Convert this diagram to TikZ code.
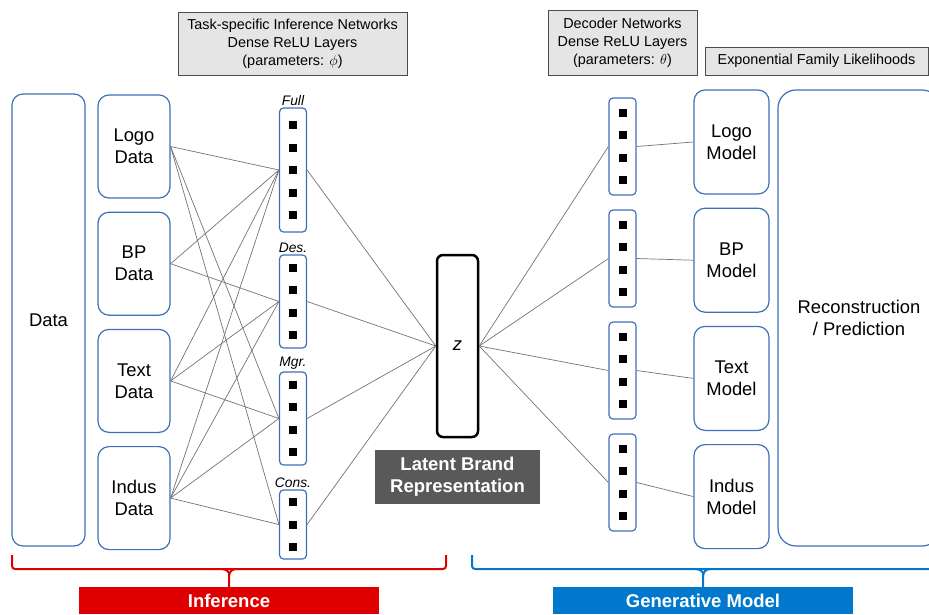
\documentclass[tikz,border=0pt]{standalone}
\usepackage{fontspec}
\setmainfont{Liberation Sans}
\usetikzlibrary{positioning,calc}

\definecolor{boxblue}{RGB}{62,112,184}
\definecolor{infred}{RGB}{222,0,0}
\definecolor{genblue}{RGB}{0,120,205}

\begin{document}
\begin{tikzpicture}[
    x=1pt, y=1pt,
    block/.style={rectangle, draw=boxblue, line width=1.2pt, rounded corners=11pt, align=center, inner sep=0pt, font=\fontsize{18.4}{22}\selectfont},
    netbox/.style={rectangle, draw=boxblue, line width=1.2pt, rounded corners=4pt, minimum width=27pt, inner sep=0pt},
    unit/.style={rectangle, fill=black, minimum size=8pt, inner sep=0pt},
    netlabel/.style={inner sep=1pt, font=\itshape\fontsize{13.8}{16}\selectfont},
    header/.style={rectangle, draw=black!70, fill=black!10, line width=1pt, align=center, inner sep=0pt, font=\fontsize{14.4}{18}\selectfont},
    tag/.style={rectangle, text=white, align=center, inner sep=0pt, font=\bfseries\fontsize{18.5}{22}\selectfont},
    wire/.style={draw=black!55, line width=0.7pt},
    brace/.style={line width=2pt, rounded corners=3pt}
]
\useasboundingbox (0,0) rectangle (929,-614);
\clip (0,0) rectangle (929,-614);

% headers above the two halves
\node[header, minimum width=229pt, minimum height=63pt] (infhead) at (292.5,-43.5) {Task-specific Inference Networks\\Dense ReLU Layers\\(parameters: $\phi$)};
\node[header, minimum width=149pt, minimum height=65pt] (dechead) at (622.5,-42.5) {Decoder Networks\\Dense ReLU Layers\\(parameters: $\theta$)};
\node[header, minimum width=223pt, minimum height=28pt] (likhead) at (816.5,-61) {Exponential Family Likelihoods};

% input side
\node[block, minimum width=73pt, minimum height=452pt] (data) at (48.5,-320) {Data};
\node[block, minimum width=72pt, minimum height=103pt] (logod) at (134,-146.5) {Logo\\Data};
\node[block, minimum width=72pt, minimum height=103pt, below=13pt of logod] (bpd) {BP\\Data};
\node[block, minimum width=72pt, minimum height=103pt, below=13pt of bpd] (textd) {Text\\Data};
\node[block, minimum width=72pt, minimum height=103pt, below=13pt of textd] (indusd) {Indus\\Data};

% inference networks
\foreach \nm/\yc/\h/\n/\lab in {full/-170/124/5/Full, des/-301.5/93/4/Des., mgr/-418.5/93/4/Mgr., cons/-524.5/69/3/Cons.}{
  \node[netbox, minimum height=\h pt] (\nm) at (293,\yc) {};
  \node[netlabel, above=1pt of \nm] (\nm-lab) {\lab};
  \foreach \k in {1,...,\n}
    \node[unit] (\nm-\k) at ($(\nm.center)+(0,{((\n+1)/2-\k)*22.5})$) {};
}

% latent code
\node[draw=black, line width=2.5pt, rounded corners=6pt, minimum width=41pt, minimum height=182pt, font=\itshape\fontsize{18.4}{22}\selectfont] (z) at (457.5,-346) {z};
\node[tag, fill=black!65, minimum width=165pt, minimum height=54pt] (latent) at (457.5,-477) {Latent Brand\\Representation};

% decoder networks
\foreach \nm/\yc in {declogo/-146.5, decbp/-258.5, dectext/-370.5, decindus/-482.5}{
  \node[netbox, minimum height=97pt] (\nm) at (622.5,\yc) {};
  \foreach \k in {1,...,4}
    \node[unit] (\nm-\k) at ($(\nm.center)+(0,{(2.5-\k)*22.5})$) {};
}

% output side
\node[block, minimum width=75pt, minimum height=104pt] (logom) at (731.5,-142) {Logo\\Model};
\node[block, minimum width=75pt, minimum height=104pt, below=13pt of logom] (bpm) {BP\\Model};
\node[block, minimum width=75pt, minimum height=104pt, below=13pt of bpm] (textm) {Text\\Model};
\node[block, minimum width=75pt, minimum height=104pt, below=13pt of textm] (indusm) {Indus\\Model};
\node[block, rounded corners=18pt, minimum width=162pt, minimum height=456pt] (recon) at (859,-318) {Reconstruction\\/ Prediction};

% wiring
\foreach \src/\dst in {logod/full, bpd/full, textd/full, indusd/full, bpd/des, textd/des, indusd/des,
                       logod/mgr, textd/mgr, indusd/mgr, logod/cons, indusd/cons}
  \draw[wire] (\src.east) -- (\dst.west);
\foreach \nm in {full, des, mgr, cons}
  \draw[wire] (\nm.east) -- (z.west);
\foreach \nm/\md in {declogo/logom, decbp/bpm, dectext/textm, decindus/indusm}{
  \draw[wire] (z.east) -- (\nm.west);
  \draw[wire] (\nm.east) -- (\md.west);
}

% section tags and braces
\node[tag, fill=infred, minimum width=300pt, minimum height=27pt] (inftag) at (229,-600.5) {Inference};
\node[tag, fill=genblue, minimum width=300pt, minimum height=27pt] (gentag) at (703,-600.5) {Generative Model};

\draw[brace, infred] (12,-555) |- (446,-569) -- (446,-555);
\draw[brace, infred] (222,-569) to[out=0,in=90] (229,-576) -- (inftag.north);
\draw[brace, infred] (236,-569) to[out=180,in=90] (229,-576);
\draw[brace, genblue] (472,-555) |- (945,-569);
\draw[brace, genblue] (696,-569) to[out=0,in=90] (703,-576) -- (gentag.north);
\draw[brace, genblue] (710,-569) to[out=180,in=90] (703,-576);
\end{tikzpicture}
\end{document}
